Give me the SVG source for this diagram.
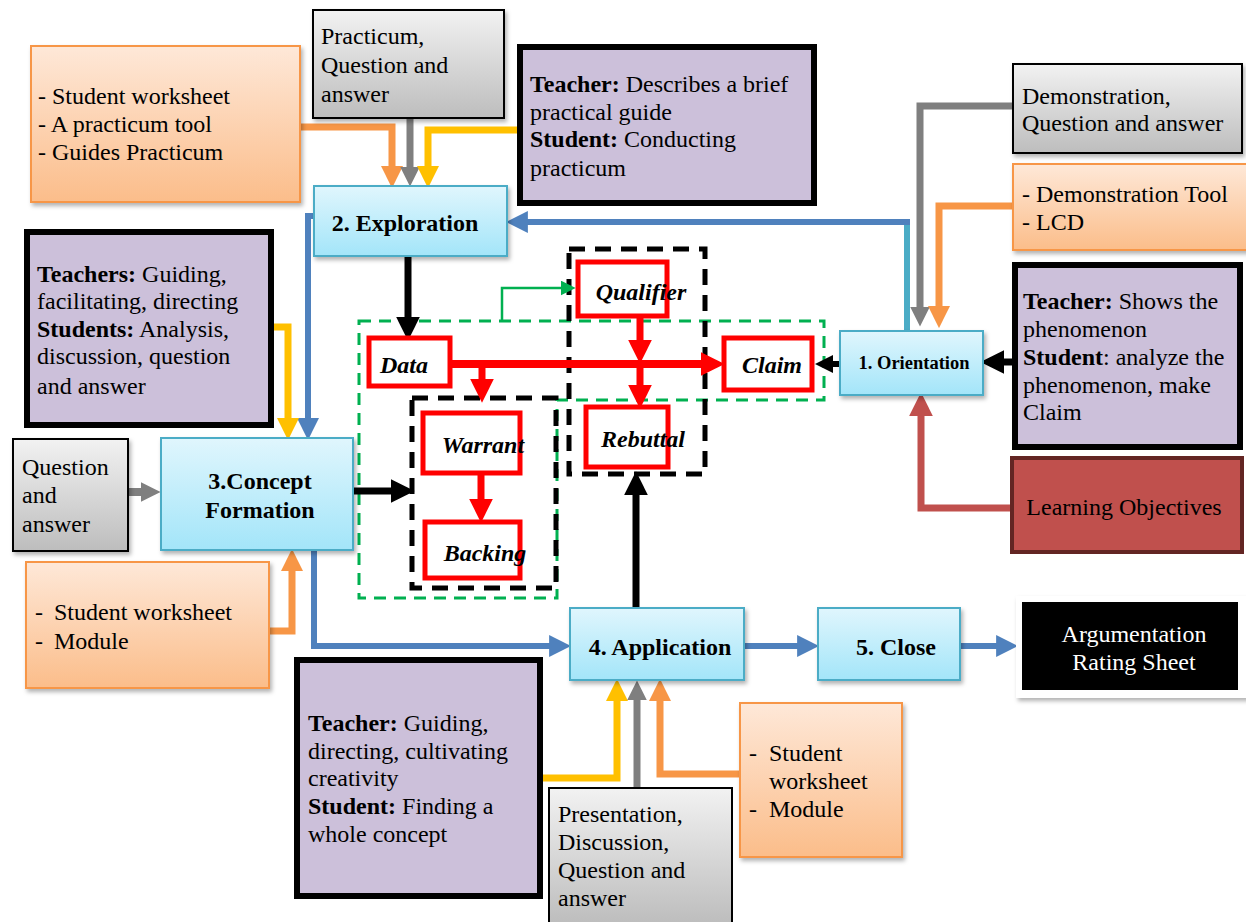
<svg xmlns="http://www.w3.org/2000/svg" width="1246" height="922" viewBox="0 0 1246 922">
<defs>
<style>
text{font-family:"Liberation Serif","Times New Roman",serif;fill:#000}
.t{font-size:24px}
.b{font-weight:bold}
.tb{font-size:24px;font-weight:bold;text-anchor:middle}
.ti{font-size:24px;font-weight:bold;font-style:italic;text-anchor:middle}
.orange{fill:url(#gOr);stroke:#f79646;stroke-width:2}
.gray{fill:url(#gGr);stroke:#000;stroke-width:2}
.purple{fill:#ccc0da;stroke:#000;stroke-width:6}
.blue{fill:url(#gBl);stroke:#4bacc6;stroke-width:2}
.red{fill:#fff;stroke:#ff0000;stroke-width:5}
.c{fill:none;stroke-linejoin:miter}
</style>
<linearGradient id="gOr" x1="0" y1="0" x2="0" y2="1"><stop offset="0" stop-color="#fee8d8"/><stop offset="1" stop-color="#fbbd8a"/></linearGradient>
<linearGradient id="gGr" x1="0" y1="0" x2="0" y2="1"><stop offset="0" stop-color="#f2f2f2"/><stop offset="1" stop-color="#bdbdbd"/></linearGradient>
<linearGradient id="gBl" x1="0" y1="0" x2="0" y2="1"><stop offset="0" stop-color="#e0f6fd"/><stop offset="1" stop-color="#a3e5f9"/></linearGradient>
<filter id="sh" x="-10%" y="-10%" width="130%" height="130%"><feDropShadow dx="2" dy="3" stdDeviation="2" flood-color="#000" flood-opacity="0.3"/></filter>
<marker id="aOr" viewBox="0 0 18 18" markerWidth="22" markerHeight="22" refX="4" refY="9" orient="auto" markerUnits="userSpaceOnUse"><path d="M0,0L18,9L0,18z" fill="#f79646"/></marker>
<marker id="aGr" viewBox="0 0 18 18" markerWidth="20" markerHeight="20" refX="4" refY="9" orient="auto" markerUnits="userSpaceOnUse"><path d="M0,0L18,9L0,18z" fill="#7f7f7f"/></marker>
<marker id="aYe" viewBox="0 0 18 18" markerWidth="22" markerHeight="22" refX="4" refY="9" orient="auto" markerUnits="userSpaceOnUse"><path d="M0,0L18,9L0,18z" fill="#ffc000"/></marker>
<marker id="aBl" viewBox="0 0 18 18" markerWidth="22" markerHeight="22" refX="4" refY="9" orient="auto" markerUnits="userSpaceOnUse"><path d="M0,0L18,9L0,18z" fill="#4f81bd"/></marker>
<marker id="aBk" viewBox="0 0 18 18" markerWidth="24" markerHeight="24" refX="4" refY="9" orient="auto" markerUnits="userSpaceOnUse"><path d="M0,0L18,9L0,18z" fill="#000"/></marker>
<marker id="aBks" viewBox="0 0 18 18" markerWidth="18" markerHeight="18" refX="4" refY="9" orient="auto" markerUnits="userSpaceOnUse"><path d="M0,0L18,9L0,18z" fill="#000"/></marker>
<marker id="aRd" viewBox="0 0 18 18" markerWidth="24" markerHeight="24" refX="4" refY="9" orient="auto" markerUnits="userSpaceOnUse"><path d="M0,0L18,9L0,18z" fill="#ff0000"/></marker>
<marker id="aLo" viewBox="0 0 18 18" markerWidth="24" markerHeight="24" refX="4" refY="9" orient="auto" markerUnits="userSpaceOnUse"><path d="M0,0L18,9L0,18z" fill="#c0504d"/></marker>
<marker id="aGn" viewBox="0 0 18 18" markerWidth="15" markerHeight="15" refX="4" refY="9" orient="auto" markerUnits="userSpaceOnUse"><path d="M0,0L18,9L0,18z" fill="#00b050"/></marker>
</defs>
<rect width="1246" height="922" fill="#fff"/>

<g id="groups">
<path d="M359,321 H824 V400 H557 V598 H359 Z" fill="none" stroke="#00b050" stroke-width="3" stroke-dasharray="12,8"/>
<rect x="569" y="249" width="136" height="225" fill="none" stroke="#000" stroke-width="5" stroke-dasharray="16,10"/>
<rect x="412" y="398" width="144" height="190" fill="none" stroke="#000" stroke-width="5" stroke-dasharray="16,10"/>
</g>

<g id="connectors" class="c">
<path d="M300,127 H392 V171" stroke="#f79646" stroke-width="7" marker-end="url(#aOr)"/>
<path d="M410,118 V171" stroke="#7f7f7f" stroke-width="7" marker-end="url(#aGr)"/>
<path d="M517,130 H428 V171" stroke="#ffc000" stroke-width="7" marker-end="url(#aYe)"/>
<path d="M408,256 V322" stroke="#000" stroke-width="7" marker-end="url(#aBk)"/>
<path d="M907,330 V222" stroke="#4bacc6" stroke-width="6"/>
<path d="M910,222 H523" stroke="#4f81bd" stroke-width="6" marker-end="url(#aBl)"/>
<path d="M1012,106 H920 V311" stroke="#7f7f7f" stroke-width="7" marker-end="url(#aGr)"/>
<path d="M1012,206 H939 V311" stroke="#f79646" stroke-width="7" marker-end="url(#aOr)"/>
<path d="M1010,508 H921 V411" stroke="#c0504d" stroke-width="7" marker-end="url(#aLo)"/>
<path d="M1012,362 H999" stroke="#000" stroke-width="7" marker-end="url(#aBk)"/>
<path d="M840,364 H829" stroke="#000" stroke-width="6" marker-end="url(#aBks)"/>
<path d="M451,364 H706" stroke="#ff0000" stroke-width="8" marker-end="url(#aRd)"/>
<path d="M482,364 V384" stroke="#ff0000" stroke-width="7" marker-end="url(#aRd)"/>
<path d="M640,317 V345" stroke="#ff0000" stroke-width="7" marker-end="url(#aRd)"/>
<path d="M640,364 V390" stroke="#ff0000" stroke-width="7" marker-end="url(#aRd)"/>
<path d="M481,475 V504" stroke="#ff0000" stroke-width="7" marker-end="url(#aRd)"/>
<path d="M502,321 V288 H564" stroke="#00b050" stroke-width="2.5" marker-end="url(#aGn)"/>
<path d="M314,216 H308 V423" stroke="#4f81bd" stroke-width="6" marker-end="url(#aBl)"/>
<path d="M274,327 H288 V423" stroke="#ffc000" stroke-width="7" marker-end="url(#aYe)"/>
<path d="M128,492 H145" stroke="#7f7f7f" stroke-width="8" marker-end="url(#aGr)"/>
<path d="M270,631 H292 V566" stroke="#f79646" stroke-width="7" marker-end="url(#aOr)"/>
<path d="M353,491 H396" stroke="#000" stroke-width="7" marker-end="url(#aBk)"/>
<path d="M314,550 V646 H554" stroke="#4f81bd" stroke-width="6" marker-end="url(#aBl)"/>
<path d="M636,608 V490" stroke="#000" stroke-width="7" marker-end="url(#aBk)"/>
<path d="M744,646 H802" stroke="#4f81bd" stroke-width="6" marker-end="url(#aBl)"/>
<path d="M960,646 H1001" stroke="#4f81bd" stroke-width="6" marker-end="url(#aBl)"/>
<path d="M543,778 H617 V696" stroke="#ffc000" stroke-width="7" marker-end="url(#aYe)"/>
<path d="M637,787 V696" stroke="#7f7f7f" stroke-width="7" marker-end="url(#aGr)"/>
<path d="M739,774 H660 V696" stroke="#f79646" stroke-width="7" marker-end="url(#aOr)"/>
</g>

<g id="n-tools-top">
<rect x="31" y="46" width="269" height="156" class="orange" filter="url(#sh)"/>
<text class="t" x="38" y="104">- Student worksheet</text>
<text class="t" x="38" y="132">- A practicum tool</text>
<text class="t" x="38" y="160">- Guides Practicum</text>
</g>
<g id="n-method-top">
<rect x="313" y="10" width="191" height="108" class="gray" filter="url(#sh)"/>
<text class="t" x="321" y="44">Practicum,</text>
<text class="t" x="321" y="73">Question and</text>
<text class="t" x="321" y="102">answer</text>
</g>
<g id="n-activity-top">
<rect x="520" y="47" width="294" height="156" class="purple"/>
<text class="t" x="530" y="92"><tspan class="b">Teacher:</tspan> Describes a brief</text>
<text class="t" x="530" y="120">practical guide</text>
<text class="t" x="530" y="147"><tspan class="b">Student:</tspan> Conducting</text>
<text class="t" x="530" y="176">practicum</text>
</g>
<g id="n-exploration">
<rect x="314" y="186" width="193" height="70" class="blue" filter="url(#sh)"/>
<text class="tb" x="405" y="231">2. Exploration</text>
</g>
<g id="n-method-right">
<rect x="1013" y="64" width="229" height="89" class="gray" filter="url(#sh)"/>
<text class="t" x="1022" y="104">Demonstration,</text>
<text class="t" x="1022" y="131">Question and answer</text>
</g>
<g id="n-tools-right">
<rect x="1013" y="164" width="236" height="86" class="orange" filter="url(#sh)"/>
<text class="t" x="1022" y="202">- Demonstration Tool</text>
<text class="t" x="1022" y="230">- LCD</text>
</g>
<g id="n-activity-right">
<rect x="1015" y="265" width="225" height="182" class="purple"/>
<text class="t" x="1023" y="309"><tspan class="b">Teacher:</tspan> Shows the</text>
<text class="t" x="1023" y="337">phenomenon</text>
<text class="t" x="1023" y="365"><tspan class="b">Student</tspan>: analyze the</text>
<text class="t" x="1023" y="393">phenomenon, make</text>
<text class="t" x="1023" y="420">Claim</text>
</g>
<g id="n-objectives">
<rect x="1012" y="458" width="230" height="94" fill="#c0504d" stroke="#632523" stroke-width="4"/>
<text class="t" x="1124" y="515" text-anchor="middle">Learning Objectives</text>
</g>
<g id="n-orientation">
<rect x="840" y="331" width="143" height="64" class="blue" filter="url(#sh)"/>
<text x="914" y="369" font-size="18.5" font-weight="bold" text-anchor="middle">1. Orientation</text>
</g>
<g id="n-activity-left">
<rect x="27" y="232" width="244" height="193" class="purple"/>
<text class="t" x="37" y="282"><tspan class="b">Teachers:</tspan> Guiding,</text>
<text class="t" x="37" y="309">facilitating, directing</text>
<text class="t" x="37" y="337"><tspan class="b">Students:</tspan> Analysis,</text>
<text class="t" x="37" y="364">discussion, question</text>
<text class="t" x="37" y="394">and answer</text>
</g>
<g id="n-method-left">
<rect x="13" y="439" width="115" height="112" class="gray" filter="url(#sh)"/>
<text class="t" x="22" y="475">Question</text>
<text class="t" x="22" y="503">and</text>
<text class="t" x="22" y="532">answer</text>
</g>
<g id="n-concept">
<rect x="161" y="438" width="192" height="112" class="blue" filter="url(#sh)"/>
<text class="tb" x="260" y="489">3.Concept</text>
<text class="tb" x="260" y="518">Formation</text>
</g>
<g id="n-tools-left">
<rect x="26" y="562" width="243" height="126" class="orange" filter="url(#sh)"/>
<text class="t" x="35" y="620">-</text><text class="t" x="54" y="620">Student worksheet</text>
<text class="t" x="35" y="649">-</text><text class="t" x="54" y="649">Module</text>
</g>
<g id="n-data">
<rect x="369" y="338" width="81" height="48" class="red"/>
<text class="ti" x="404" y="373">Data</text>
</g>
<g id="n-qualifier">
<rect x="578" y="262" width="89" height="54" class="red"/>
<text class="ti" x="641" y="300">Qualifier</text>
</g>
<g id="n-claim">
<rect x="724" y="338" width="88" height="52" class="red"/>
<text class="ti" x="772" y="373">Claim</text>
</g>
<g id="n-warrant">
<rect x="423" y="413" width="97" height="60" class="red"/>
<text class="ti" x="483" y="453">Warrant</text>
</g>
<g id="n-backing">
<rect x="425" y="522" width="95" height="56" class="red"/>
<text class="ti" x="485" y="561">Backing</text>
</g>
<g id="n-rebuttal">
<rect x="586" y="407" width="82" height="60" class="red"/>
<text class="ti" x="643" y="447">Rebuttal</text>
</g>
<g id="n-application">
<rect x="570" y="608" width="174" height="72" class="blue" filter="url(#sh)"/>
<text class="tb" x="660" y="655">4. Application</text>
</g>
<g id="n-close">
<rect x="818" y="608" width="142" height="72" class="blue" filter="url(#sh)"/>
<text class="tb" x="896" y="655">5. Close</text>
</g>
<g id="n-rating">
<rect x="1016" y="596" width="232" height="102" fill="#fff" filter="url(#sh)"/>
<rect x="1022" y="602" width="216" height="88" fill="#000"/>
<text class="t" x="1134" y="642" text-anchor="middle" style="fill:#fff">Argumentation</text>
<text class="t" x="1134" y="670" text-anchor="middle" style="fill:#fff">Rating Sheet</text>
</g>
<g id="n-activity-bottom">
<rect x="297" y="660" width="243" height="236" class="purple"/>
<text class="t" x="308" y="731"><tspan class="b">Teacher:</tspan> Guiding,</text>
<text class="t" x="308" y="759">directing, cultivating</text>
<text class="t" x="308" y="786">creativity</text>
<text class="t" x="308" y="814"><tspan class="b">Student:</tspan> Finding a</text>
<text class="t" x="308" y="842">whole concept</text>
</g>
<g id="n-method-bottom">
<rect x="549" y="788" width="183" height="136" class="gray"/>
<text class="t" x="558" y="822">Presentation,</text>
<text class="t" x="558" y="850">Discussion,</text>
<text class="t" x="558" y="878">Question and</text>
<text class="t" x="558" y="906">answer</text>
</g>
<g id="n-tools-bottom">
<rect x="740" y="703" width="162" height="154" class="orange" filter="url(#sh)"/>
<text class="t" x="749" y="761">-</text><text class="t" x="769" y="761">Student</text>
<text class="t" x="769" y="789">worksheet</text>
<text class="t" x="749" y="817">-</text><text class="t" x="769" y="817">Module</text>
</g>
</svg>
